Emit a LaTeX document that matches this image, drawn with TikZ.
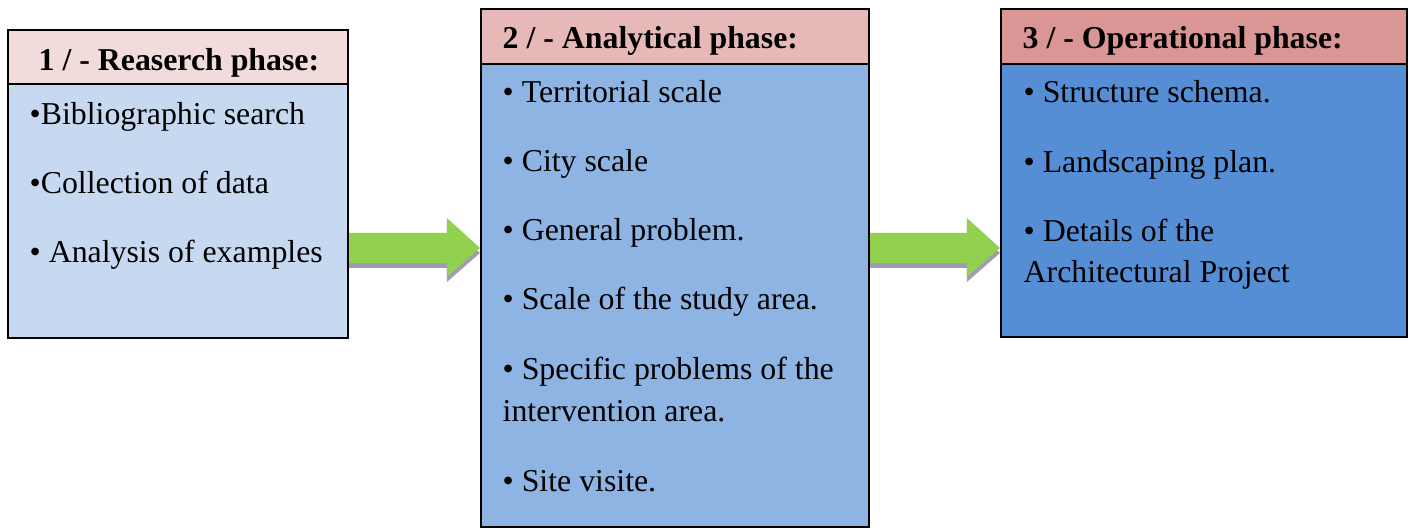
\documentclass[tikz,border=0pt]{standalone}
\usepackage{fontspec}
\setmainfont{Liberation Serif}
\usepackage{tikz}
\usetikzlibrary{calc}
\usetikzlibrary{fit}
\definecolor{headone}{HTML}{F2DCDB}
\definecolor{headtwo}{HTML}{E6B9B8}
\definecolor{headthree}{HTML}{D99694}
\definecolor{bodyone}{HTML}{C6D9F1}
\definecolor{bodytwo}{HTML}{8EB4E3}
\definecolor{bodythree}{HTML}{558ED5}
\definecolor{arrowgreen}{HTML}{92D050}
\definecolor{arrowshadow}{HTML}{A09BB3}
\tikzset{
    phasebox/.style={draw=black, line width=0.6pt, inner sep=0pt},
    phasetext/.style={anchor=base west, inner sep=0pt,
        font=\fontsize{9.05}{11}\selectfont},
    phasehead/.style={phasetext, font=\fontsize{9.05}{11}\selectfont\bfseries},
}
% green block arrow from one box to the next
\newcommand{\phasearrow}[2]{
    \foreach \sx/\sy/\col in {3/5/arrowshadow, 0/0/arrowgreen}
    \fill[\col, shift={(\sx,\sy)}] (#1.east |- 0,233)
        -- ($(#2.west |- 0,233)+(-33,0)$) -- ($(#2.west |- 0,218)+(-33,0)$)
        -- (#2.west |- 0,248)
        -- ($(#2.west |- 0,277)+(-33,0)$) -- ($(#2.west |- 0,263)+(-33,0)$)
        -- (#1.east |- 0,263) -- cycle;
}

\begin{document}
\begin{tikzpicture}[x=0.01cm, y=-0.01cm]
\useasboundingbox (0,0) rectangle (1414,528);
% \draw[step=50, very thin, gray] (0,0) grid (1414,528);

% phase 1
\node[phasebox, fill=bodyone, fit={(8,84) (348,338)}] (body1) {};
\node[phasebox, fill=headone, fit={(8,30) (348,84)}] (head1) {};
\node[phasehead] (t1) at (38,71) {1 / - Reaserch phase:};
\node[phasetext] (l11) at (29,125) {•Bibliographic search};
\node[phasetext] (l12) at (29,194) {•Collection of data};
\node[phasetext] (l13) at (29,263) {• Analysis of examples};

% phase 2
\node[phasebox, fill=bodytwo, fit={(481,64) (869,527)}] (body2) {};
\node[phasebox, fill=headtwo, fit={(481,9) (869,64)}] (head2) {};
\node[phasehead] (t2) at (502,49) {2 / - Analytical phase:};
\node[phasetext] (l21) at (502,103) {• Territorial scale};
\node[phasetext] (l22) at (502,172) {• City scale};
\node[phasetext] (l23) at (502,241) {• General problem.};
\node[phasetext] (l24) at (502,310) {• Scale of the study area.};
\node[phasetext] (l25) at (502,380) {• Specific problems of the};
\node[phasetext] (l26) at (502,422) {intervention area.};
\node[phasetext] (l27) at (502,492) {• Site visite.};

% phase 3
\node[phasebox, fill=bodythree, fit={(1001,64) (1407,337)}] (body3) {};
\node[phasebox, fill=headthree, fit={(1001,9) (1407,64)}] (head3) {};
\node[phasehead] (t3) at (1022,49) {3 / - Operational phase:};
\node[phasetext] (l31) at (1023,103) {• Structure schema.};
\node[phasetext] (l32) at (1023,173) {• Landscaping plan.};
\node[phasetext] (l33) at (1023,242) {• Details of the};
\node[phasetext] (l34) at (1023,283) {Architectural Project};

\phasearrow{body1}{body2}
\phasearrow{body2}{body3}
\end{tikzpicture}
\end{document}
